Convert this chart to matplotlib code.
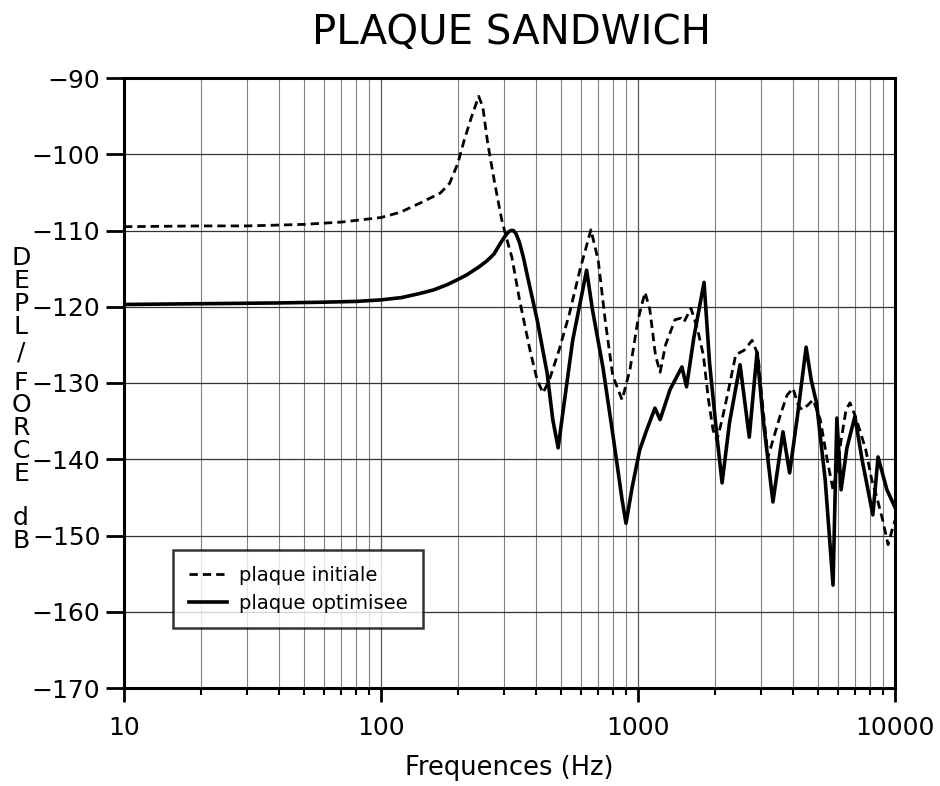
import matplotlib
matplotlib.use("Agg")
import matplotlib.pyplot as plt
from matplotlib.ticker import FixedLocator, NullFormatter

plt.rcParams['font.family'] = ['DejaVu Sans']

# ---- data ----
f_init = [10, 20, 30, 50, 70, 100, 119, 142, 170, 185, 199, 211, 225, 240, 249, 260, 277,
          295, 309, 323, 346, 380, 405, 427, 452, 493, 540, 594, 656, 700, 745, 797, 867,
          930, 1000, 1065, 1112, 1170, 1219, 1280, 1393, 1470, 1510, 1607, 1700, 1795, 1880,
          1960, 2030, 2124, 2250, 2400, 2590, 2780, 2930, 3040, 3206, 3350, 3580, 3800, 4010,
          4200, 4340, 4580, 4800, 5120, 5450, 5740, 5950, 6170, 6450, 6680, 6980, 7300, 7700,
          8120, 8500, 8960, 9400, 9740, 10000]
db_init = [-109.5, -109.4, -109.4, -109.2, -108.9, -108.3, -107.6, -106.4, -105.1, -103.8,
           -101.2, -98.1, -95.1, -92.4, -93.8, -98.5, -103.8, -108.6, -111.2, -113.5,
           -119.1, -125.7, -129.6, -131.3, -129.6, -125.7, -121.0, -115.2, -109.9, -113.9,
           -121.7, -129.0, -132.2, -128.3, -121.7, -118.1, -120.4, -126.4, -128.6, -125.0,
           -121.7, -121.5, -122.0, -120.2, -122.8, -126.3, -132.2, -136.2, -137.5, -134.8,
           -130.9, -126.3, -125.7, -124.4, -126.3, -132.2, -139.7, -137.5, -134.2, -131.6,
           -130.7, -132.9, -133.5, -132.9, -132.2, -134.8, -140.1, -144.0, -141.4, -137.5,
           -133.5, -132.6, -134.2, -136.2, -138.8, -142.7, -145.0, -148.0, -151.2, -149.3,
           -148.0]

f_opt = [10, 20, 40, 60, 80, 100, 120, 140, 160, 181, 200, 216, 240, 258, 275, 290, 303, 313,
         320, 327, 335, 346, 358, 372, 405, 443, 466, 489, 510, 557, 606, 631, 665, 730, 797,
         867, 898, 950, 1015, 1080, 1164, 1219, 1331, 1482, 1545, 1650, 1807, 1899, 2030, 2124,
         2270, 2495, 2710, 2905, 3060, 3350, 3665, 3890, 4170, 4510, 4720, 4950, 5350, 5740,
         5940, 6170, 6500, 6980, 7450, 8200, 8590, 9300, 10000]
db_opt = [-119.7, -119.6, -119.5, -119.4, -119.3, -119.1, -118.8, -118.3, -117.8, -117.1,
          -116.4, -115.8, -114.8, -114.0, -113.1, -111.8, -110.8, -110.2, -110.0, -110.0,
          -110.4, -111.6, -113.5, -116.1, -121.7, -128.7, -134.8, -138.5, -133.9, -124.4,
          -118.2, -115.2, -120.4, -127.9, -136.6, -145.3, -148.4, -143.6, -138.8, -136.2,
          -133.3, -134.8, -130.9, -127.9, -130.5, -124.0, -116.8, -127.4, -137.1, -143.1,
          -135.2, -127.6, -137.1, -126.0, -134.4, -145.6, -136.4, -141.8, -134.4, -125.3,
          -129.6, -132.6, -142.7, -156.5, -134.6, -144.0, -138.5, -134.4, -140.1, -147.3,
          -139.7, -144.0, -146.3]

y_ticks = [-90, -100, -110, -120, -130, -140, -150, -160, -170]
x_ticks = [10, 100, 1000, 10000]
x_tick_labels = ["10", "100", "1000", "10000"]
ylabel_chars = ["D", "E", "P", "L", "/", "F", "O", "R", "C", "E", "d", "B"]

# ---- figure ----
fig = plt.figure(figsize=(9.4, 7.86), dpi=100)
ax = fig.add_axes([124/940, 98/786, 771/940, 610/786])

ax.set_xscale('log')
ax.set_xlim(10, 10000)
ax.set_ylim(-170, -90)

minor = [m * d for d in (10, 100, 1000) for m in range(2, 10)]
for v in minor:
    ax.axvline(v, color='0.5', lw=0.8, zorder=1)
for v in x_ticks:
    ax.axvline(v, color='0.35', lw=0.9, zorder=1)
for v in y_ticks:
    ax.axhline(v, color='0.2', lw=0.9, zorder=1)

ax.plot(f_init, db_init, color='black', lw=2.0, linestyle=(0, (3, 1.8)),
        label='plaque initiale', zorder=3)
ax.plot(f_opt, db_opt, color='black', lw=2.6, label='plaque optimisee', zorder=4)

ax.xaxis.set_major_locator(FixedLocator(x_ticks))
ax.set_xticklabels(x_tick_labels)
ax.xaxis.set_minor_locator(FixedLocator(minor))
ax.xaxis.set_minor_formatter(NullFormatter())
ax.set_yticks(y_ticks)
ax.set_yticklabels([f"\u2212{abs(v)}" for v in y_ticks])

ax.tick_params(axis='both', which='major', direction='out', width=2, color='black')
ax.tick_params(axis='y', which='major', length=13, pad=4, labelsize=18)
ax.tick_params(axis='x', which='major', length=10, pad=10, labelsize=18)
ax.tick_params(axis='x', which='minor', direction='out', length=5, width=1.5)

for s in ax.spines.values():
    s.set_linewidth(2.2)
    s.set_zorder(5)

ax.set_xlabel("Frequences (Hz)", fontsize=18.5, labelpad=11)

fig.text(511/940, 1 - 33/786, "PLAQUE SANDWICH", fontsize=29, ha='center', va='center')

ylab_y = [258, 281, 304, 327, 353, 383, 405, 428, 451, 474, 518, 541]
for ch, yy in zip(ylabel_chars, ylab_y):
    fig.text(21/940, 1 - yy/786, ch, fontsize=18, ha='center', va='center')

leg = ax.legend(loc='lower left', bbox_to_anchor=(0.0636, 0.098), borderaxespad=0,
                fontsize=14, frameon=True, fancybox=False, edgecolor='black',
                handlelength=2.0, handletextpad=0.6, borderpad=0.8, labelspacing=0.45)
leg.get_frame().set_linewidth(1.8)
leg.set_zorder(6)

fig.savefig("out.png", dpi=100)
